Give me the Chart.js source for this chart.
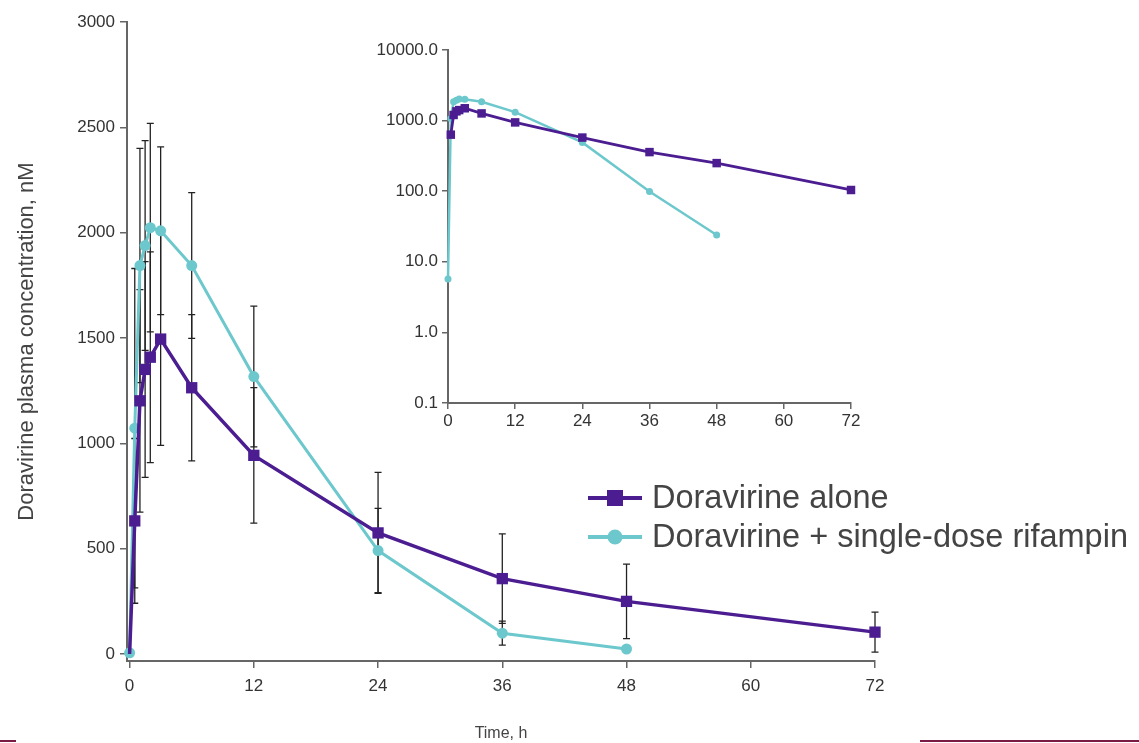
<!DOCTYPE html>
<html>
<head>
  <title>Doravirine plasma concentration</title>
  <script src="https://cdn.jsdelivr.net/npm/chart.js"></script>
  <style>
    body {
      margin: 0;
      background: #fff;
      font-family: "Liberation Sans", Arial, sans-serif;
    }
    #wrap {
      position: relative;
      width: 1139px;
      height: 743px;
      overflow: hidden;
    }
    #mainChart { position: absolute; left: 0; top: 0; }
    #insetChart { position: absolute; left: 330px; top: 30px; }
    #legend { position: absolute; left: 588px; top: 478px; }
    .row {
      display: flex;
      align-items: center;
      height: 39px;
      font-size: 32.5px;
      color: #444;
      white-space: nowrap;
    }
    .key {
      position: relative;
      width: 54px;
      height: 20px;
      margin-right: 10px;
    }
    .key .ln {
      position: absolute;
      left: 0; right: 0; top: 8px;
      height: 4px;
    }
    .key .mk {
      position: absolute;
      left: 50%; top: 50%;
      transform: translate(-50%, -50%);
    }
    .bar { position: absolute; height: 2px; background: #7a1a45; top: 740px; }
  </style>
</head>
<body>
  <div id="wrap">
    <canvas id="mainChart" width="1139" height="743"></canvas>
    <canvas id="insetChart" width="560" height="410"></canvas>
    <div id="legend"></div>
    <div class="bar" style="left:0;width:16px"></div>
    <div class="bar" style="left:920px;width:219px"></div>
  </div>

  <script>
    // sampling times (h)
    const times = [0, 0.5, 1, 1.5, 2, 3, 6, 12, 24, 36, 48, 72];

    // mean plasma concentration (nM) and SD
    const aloneMean = [0, 632, 1202, 1351, 1409, 1495, 1264, 943, 575, 358, 250, 104];
    const aloneSD   = [null, 391, 528, 512, 500, 505, 347, 322, 287, 212, 177, 95];
    const rifMean   = [5.7, 1072, 1844, 1939, 2024, 2009, 1844, 1317, 491, 99, 24, null];
    const rifSD     = [null, 758, 556, 498, 495, 398, 346, 334, 200, 57, null, null];

    const seriesNames = ['Doravirine alone', 'Doravirine + single-dose rifampin'];

    const xTicks = [0, 12, 24, 36, 48, 60, 72];
    const yTicks = [0, 500, 1000, 1500, 2000, 2500, 3000];
    const insetYTicks = [0.1, 1, 10, 100, 1000, 10000];

    const PURPLE = '#4b1d91';
    const CYAN = '#6cc8cc';
    const AXIS = '#666';
    const FONT = '"Liberation Sans", Arial, sans-serif';

    Chart.defaults.font.family = FONT;
    Chart.defaults.color = '#333';

    function points(means, sds, logScale) {
      const out = [];
      times.forEach((t, i) => {
        const v = means[i];
        if (v == null) return;
        if (logScale && v <= 0) return;
        out.push({ x: t, y: v, sd: sds ? sds[i] : null });
      });
      return out;
    }

    // vertical SD whiskers with caps, drawn under the lines
    const errorBars = {
      id: 'errorBars',
      beforeDatasetsDraw(chart) {
        const { ctx, scales: { x, y } } = chart;
        ctx.save();
        ctx.strokeStyle = '#222';
        ctx.lineWidth = 1.3;
        chart.data.datasets.forEach(ds => {
          ds.data.forEach(p => {
            if (p.sd == null) return;
            const px = x.getPixelForValue(p.x);
            const top = y.getPixelForValue(p.y + p.sd);
            const bot = y.getPixelForValue(p.y - p.sd);
            ctx.beginPath();
            ctx.moveTo(px, top); ctx.lineTo(px, bot);
            ctx.moveTo(px - 3.5, top); ctx.lineTo(px + 3.5, top);
            ctx.moveTo(px - 3.5, bot); ctx.lineTo(px + 3.5, bot);
            ctx.stroke();
          });
        });
        ctx.restore();
      }
    };

    const mainChart = new Chart(document.getElementById('mainChart'), {
      type: 'line',
      data: {
        datasets: [
          {
            label: seriesNames[0],
            data: points(aloneMean, aloneSD),
            borderColor: PURPLE,
            backgroundColor: PURPLE,
            borderWidth: 3.5,
            pointStyle: 'rect',
            // the pre-dose zero sits under the other series' marker
            pointRadius: c => (c.raw && c.raw.y === 0 ? 0 : 8),
            pointBorderWidth: 0,
            tension: 0,
            clip: false
          },
          {
            label: seriesNames[1],
            data: points(rifMean, rifSD),
            borderColor: CYAN,
            backgroundColor: CYAN,
            borderWidth: 3,
            pointStyle: 'circle',
            pointRadius: 5.5,
            pointBorderWidth: 0,
            tension: 0,
            clip: false
          }
        ]
      },
      options: {
        responsive: false,
        animation: false,
        devicePixelRatio: 1,
        layout: { padding: { left: 0, top: 22, right: 264, bottom: 0 } },
        plugins: { legend: { display: false }, tooltip: { enabled: false } },
        scales: {
          x: {
            type: 'linear',
            min: -0.25,
            max: 72,
            afterBuildTicks: s => { s.ticks = xTicks.map(v => ({ value: v })); },
            afterFit: s => { s.height = 82; },
            ticks: { font: { size: 17 }, padding: 8, maxRotation: 0, callback: v => String(v) },
            grid: { drawOnChartArea: false, tickLength: 7, color: AXIS, lineWidth: 1.5 },
            border: { color: AXIS, width: 2 },
            title: { display: true, text: 'Time, h', font: { size: 16 }, color: '#444', padding: { top: 0, bottom: 0 } }
          },
          y: {
            min: -33,
            max: 3000,
            afterBuildTicks: s => { s.ticks = yTicks.map(v => ({ value: v })); },
            afterFit: s => { s.width = 127; },
            ticks: { font: { size: 17 }, padding: 5, callback: v => String(v) },
            grid: { drawOnChartArea: false, tickLength: 7, color: AXIS, lineWidth: 1.5 },
            border: { color: AXIS, width: 2 },
            title: { display: true, text: 'Doravirine plasma concentration, nM', font: { size: 22 }, color: '#444', padding: { top: 14, bottom: 0 } }
          }
        }
      },
      plugins: [errorBars]
    });

    // semi-log inset
    new Chart(document.getElementById('insetChart'), {
      type: 'line',
      data: {
        datasets: [
          {
            label: seriesNames[0],
            data: points(aloneMean, null, true),
            borderColor: PURPLE,
            backgroundColor: PURPLE,
            borderWidth: 2.8,
            pointStyle: 'rect',
            pointRadius: 6,
            pointBorderWidth: 0,
            tension: 0,
            clip: false
          },
          {
            label: seriesNames[1],
            data: points(rifMean, null, true),
            borderColor: CYAN,
            backgroundColor: CYAN,
            borderWidth: 2.5,
            pointStyle: 'circle',
            pointRadius: 3.5,
            pointBorderWidth: 0,
            tension: 0,
            clip: false
          }
        ]
      },
      options: {
        responsive: false,
        animation: false,
        devicePixelRatio: 1,
        layout: { padding: { left: 0, top: 20, right: 39, bottom: 0 } },
        plugins: { legend: { display: false }, tooltip: { enabled: false } },
        scales: {
          x: {
            type: 'linear',
            min: 0,
            max: 72,
            afterBuildTicks: s => { s.ticks = xTicks.map(v => ({ value: v })); },
            afterFit: s => { s.height = 37; },
            ticks: { font: { size: 17 }, padding: 2, maxRotation: 0, callback: v => String(v) },
            grid: { drawOnChartArea: false, tickLength: 6, color: AXIS, lineWidth: 1.5 },
            border: { color: AXIS, width: 2 }
          },
          y: {
            type: 'logarithmic',
            min: 0.1,
            max: 10000,
            afterBuildTicks: s => { s.ticks = insetYTicks.map(v => ({ value: v })); },
            afterFit: s => { s.width = 118; },
            ticks: { font: { size: 17 }, padding: 4, callback: v => Number(v).toFixed(1) },
            grid: { drawOnChartArea: false, tickLength: 6, color: AXIS, lineWidth: 1.5 },
            border: { color: AXIS, width: 2 }
          }
        }
      }
    });

    // legend: line through marker, like the original key
    const legend = document.getElementById('legend');
    mainChart.data.datasets.forEach(ds => {
      const row = document.createElement('div');
      row.className = 'row';
      const key = document.createElement('div');
      key.className = 'key';
      const ln = document.createElement('div');
      ln.className = 'ln';
      ln.style.background = ds.borderColor;
      const mk = document.createElement('div');
      mk.className = 'mk';
      mk.style.background = ds.backgroundColor;
      if (ds.pointStyle === 'rect') {
        mk.style.width = '16px'; mk.style.height = '16px';
      } else {
        mk.style.width = '15px'; mk.style.height = '15px'; mk.style.borderRadius = '50%';
      }
      key.appendChild(ln);
      key.appendChild(mk);
      const txt = document.createElement('span');
      txt.textContent = ds.label;
      row.appendChild(key);
      row.appendChild(txt);
      legend.appendChild(row);
    });
  </script>
</body>
</html>
